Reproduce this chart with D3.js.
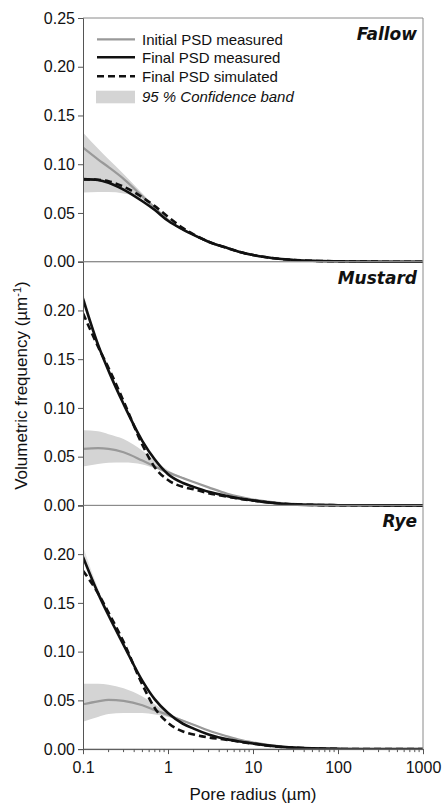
<!DOCTYPE html>
<html><head><meta charset="utf-8">
<script src="https://cdn.jsdelivr.net/npm/d3@7"></script>
<style>
html,body{margin:0;padding:0;background:#fff;}
svg{display:block;}
text{font-family:"Liberation Sans",Arial,sans-serif;fill:#111;}
</style></head>
<body>
<svg id="chart" width="445" height="807"></svg>
<script>
// ---- data ----
const radius = [0.1, 0.15, 0.2, 0.3, 0.5, 0.7, 1, 1.5, 2, 3, 5, 7, 10, 20, 30, 50, 100, 200, 500, 1000];
const panelNames = ["Fallow", "Mustard", "Rye"];

const fallowInitial = [0.117, 0.105, 0.097, 0.085, 0.067, 0.055, 0.043, 0.033, 0.0275, 0.0205, 0.014, 0.010, 0.0068, 0.0030, 0.0018, 0.0009, 0.0004, 0.0001, 0, 0];
const fallowFinal   = [0.0847, 0.0838, 0.081, 0.074, 0.062, 0.053, 0.042, 0.033, 0.0275, 0.0205, 0.014, 0.010, 0.0068, 0.0030, 0.0018, 0.0009, 0.0004, 0.0001, 0, 0];
const fallowSim     = [0.0845, 0.084, 0.0825, 0.077, 0.066, 0.057, 0.046, 0.0345, 0.028, 0.0205, 0.014, 0.010, 0.0068, 0.0030, 0.0018, 0.0009, 0.0004, 0.0001, 0, 0];
const fallowBandUp  = [0.1325, 0.116, 0.105, 0.090, 0.070, 0.057, 0.044, 0.0335, 0.028, 0.021, 0.0143, 0.0102, 0.007, 0.0031, 0.0019, 0.001, 0.0004, 0.0001, 0, 0];
const fallowBandLo  = [0.071, 0.0715, 0.0715, 0.070, 0.064, 0.053, 0.042, 0.0325, 0.027, 0.020, 0.0137, 0.0098, 0.0066, 0.0029, 0.0017, 0.0008, 0.0004, 0.0001, 0, 0];

const mustardInitial = [0.058, 0.0587, 0.058, 0.0545, 0.046, 0.040, 0.034, 0.028, 0.024, 0.0185, 0.012, 0.0088, 0.006, 0.0025, 0.0015, 0.0007, 0.0002, 0.0001, 0, 0];
const mustardFinal   = [0.212, 0.165, 0.138, 0.104, 0.066, 0.047, 0.032, 0.023, 0.019, 0.014, 0.0095, 0.007, 0.005, 0.002, 0.0011, 0.0005, 0.0002, 0.0001, 0, 0];
const mustardSim     = [0.197, 0.163, 0.141, 0.107, 0.062, 0.039, 0.026, 0.019, 0.0165, 0.0125, 0.009, 0.0068, 0.005, 0.002, 0.0011, 0.0005, 0.0002, 0.0001, 0, 0];
const mustardBandUp  = [0.077, 0.076, 0.073, 0.068, 0.056, 0.046, 0.036, 0.029, 0.0245, 0.019, 0.0123, 0.009, 0.0062, 0.0026, 0.0015, 0.0007, 0.0002, 0.0001, 0, 0];
const mustardBandLo  = [0.040, 0.0425, 0.0437, 0.044, 0.042, 0.038, 0.032, 0.027, 0.0235, 0.018, 0.0117, 0.0086, 0.0058, 0.0024, 0.0015, 0.0007, 0.0002, 0.0001, 0, 0];
const mustardFinalUp = [0.219, 0.168, 0.139, 0.104, 0.066, 0.047, 0.032, 0.023, 0.019, 0.014, 0.0095, 0.007, 0.005, 0.002, 0.0011, 0.0005, 0.0002, 0.0001, 0, 0];

const ryeInitial = [0.046, 0.049, 0.0505, 0.0495, 0.045, 0.040, 0.035, 0.029, 0.025, 0.019, 0.013, 0.0095, 0.0068, 0.003, 0.0017, 0.0008, 0.0002, 0.0001, 0, 0];
const ryeFinal   = [0.197, 0.160, 0.137, 0.107, 0.070, 0.051, 0.037, 0.026, 0.021, 0.015, 0.010, 0.0078, 0.0058, 0.0025, 0.0015, 0.0007, 0.0002, 0.0001, 0, 0];
const ryeSim     = [0.183, 0.160, 0.140, 0.110, 0.066, 0.042, 0.027, 0.018, 0.015, 0.012, 0.0095, 0.0075, 0.0056, 0.0024, 0.0015, 0.0007, 0.0002, 0.0001, 0, 0];
const ryeBandUp  = [0.067, 0.067, 0.066, 0.0625, 0.054, 0.046, 0.037, 0.030, 0.0258, 0.0196, 0.0134, 0.0098, 0.007, 0.0031, 0.0018, 0.0008, 0.0002, 0.0001, 0, 0];
const ryeBandLo  = [0.028, 0.033, 0.036, 0.037, 0.037, 0.0355, 0.033, 0.028, 0.0242, 0.0184, 0.0126, 0.0092, 0.0066, 0.0029, 0.0016, 0.0008, 0.0002, 0.0001, 0, 0];
const ryeFinalUp = [0.208, 0.165, 0.139, 0.107, 0.070, 0.051, 0.037, 0.026, 0.021, 0.015, 0.010, 0.0078, 0.0058, 0.0025, 0.0015, 0.0007, 0.0002, 0.0001, 0, 0];

const xTickValues = [0.1, 1, 10, 100, 1000];
const xTickLabels = ["0.1", "1", "10", "100", "1000"];
const yTicksTop = [0, 0.05, 0.10, 0.15, 0.20, 0.25];
const yTicksOther = [0, 0.05, 0.10, 0.15, 0.20];
const legendLabels = ["Initial PSD measured", "Final PSD measured", "Final PSD simulated", "95 % Confidence band"];

const panels = [
  {name: panelNames[0], init: fallowInitial, fin: fallowFinal, sim: fallowSim, up: fallowBandUp, lo: fallowBandLo, finUp: null, ticks: yTicksTop},
  {name: panelNames[1], init: mustardInitial, fin: mustardFinal, sim: mustardSim, up: mustardBandUp, lo: mustardBandLo, finUp: mustardFinalUp, ticks: yTicksOther},
  {name: panelNames[2], init: ryeInitial, fin: ryeFinal, sim: ryeSim, up: ryeBandUp, lo: ryeBandLo, finUp: ryeFinalUp, ticks: yTicksOther}
];

// ---- layout ----
const left = 83, right = 423, top0 = 18, panelH = 243.7;
const svg = d3.select("#chart");
const x = d3.scaleLog().domain([0.1, 1000]).range([left, right]);

svg.append("defs").append("clipPath").attr("id", "clipAll")
  .append("rect").attr("x", left).attr("y", top0).attr("width", right - left).attr("height", panelH * 3);

const GRAY = "#999999", BAND = "#d4d4d4", BLACK = "#111111";

panels.forEach((p, i) => {
  const t = top0 + i * panelH, b = t + panelH;
  const y = d3.scaleLinear().domain([0, 0.25]).range([b, t]);
  const g = svg.append("g");
  const cg = g.append("g").attr("clip-path", "url(#clipAll)");
  const idx = d3.range(radius.length);

  if (p.finUp) {
    cg.append("path")
      .attr("d", d3.area().x(k => x(radius[k])).y0(k => y(p.fin[k])).y1(k => y(p.finUp[k])).curve(d3.curveMonotoneX)(idx))
      .attr("fill", "#e3e3e3");
  }
  cg.append("path")
    .attr("d", d3.area().x(k => x(radius[k])).y0(k => y(p.lo[k])).y1(k => y(p.up[k])).curve(d3.curveMonotoneX)(idx))
    .attr("fill", BAND);
  const line = arr => d3.line().x(k => x(radius[k])).y(k => y(arr[k])).curve(d3.curveMonotoneX)(idx);
  cg.append("path").attr("d", line(p.init)).attr("fill", "none").attr("stroke", GRAY).attr("stroke-width", 2.2);
  cg.append("path").attr("d", line(p.fin)).attr("fill", "none").attr("stroke", BLACK).attr("stroke-width", 2.6);
  cg.append("path").attr("d", line(p.sim)).attr("fill", "none").attr("stroke", BLACK).attr("stroke-width", 2.6).attr("stroke-dasharray", "7,4");

  // frame
  g.append("line").attr("x1", left).attr("x2", right).attr("y1", t).attr("y2", t).attr("stroke", "#8a8a8a");
  g.append("line").attr("x1", right).attr("x2", right).attr("y1", t).attr("y2", b).attr("stroke", "#8a8a8a");
  g.append("line").attr("x1", left).attr("x2", right).attr("y1", b).attr("y2", b).attr("stroke", "#8a8a8a");

  // y axis
  const ya = g.append("g").attr("transform", `translate(${left},0)`)
    .call(d3.axisLeft(y).tickValues(p.ticks).tickFormat(d3.format(".2f")).tickSize(5).tickPadding(3));
  ya.select(".domain").attr("stroke", "#555");
  ya.selectAll(".tick line").attr("stroke", "#555");
  ya.selectAll("text").style("font-size", "16px").style("font-family", '"Liberation Sans", Arial, sans-serif').attr("fill", "#111");

  // panel label
  g.append("text").attr("x", 417).attr("y", t + 22).attr("text-anchor", "end")
    .style("font-family", '"DejaVu Sans", sans-serif').style("font-weight", "bold").style("font-style", "italic")
    .style("font-size", "17px").text(p.name);

  if (i === 2) {
    const xa = g.append("g").attr("transform", `translate(0,${b})`)
      .call(d3.axisBottom(x).tickValues(xTickValues).tickFormat((d, j) => xTickLabels[j]).tickSize(5).tickPadding(8));
    xa.select(".domain").attr("stroke", "#555");
    xa.selectAll(".tick line").attr("stroke", "#555");
    xa.selectAll("text").style("font-size", "16px").style("font-family", '"Liberation Sans", Arial, sans-serif').attr("fill", "#111");
    // minor ticks
    const minor = [];
    for (let d = 0.1; d < 1000; d *= 10) for (let m = 2; m <= 9; m++) minor.push(+(d * m).toPrecision(3));
    g.append("g").selectAll("line").data(minor).join("line")
      .attr("x1", d => x(d)).attr("x2", d => x(d)).attr("y1", b).attr("y2", b + 3)
      .attr("stroke", "#555");
  }
});

// axis titles
svg.append("text").attr("x", (left + right) / 2).attr("y", 800).attr("text-anchor", "middle")
  .style("font-size", "17px").text("Pore radius (µm)");
const yt = svg.append("text").attr("transform", `translate(27,${top0 + panelH * 1.5 + 2}) rotate(-90)`)
  .attr("text-anchor", "middle").style("font-size", "17px");
yt.append("tspan").text("Volumetric frequency (µm");
yt.append("tspan").attr("dy", -6).style("font-size", "11px").text("-1");
yt.append("tspan").attr("dy", 6).text(")");

// legend
const lg = svg.append("g");
const rowsY = [39.3, 57.3, 76.3];
const styles = [{c: GRAY, w: 2.2, d: null}, {c: BLACK, w: 2.6, d: null}, {c: BLACK, w: 2.6, d: "7,4"}];
rowsY.forEach((ry, k) => {
  const l = lg.append("line").attr("x1", 97).attr("x2", 135).attr("y1", ry).attr("y2", ry)
    .attr("stroke", styles[k].c).attr("stroke-width", styles[k].w);
  if (styles[k].d) l.attr("stroke-dasharray", styles[k].d);
  lg.append("text").attr("x", 142).attr("y", ry + 5.5).style("font-size", "15px").text(legendLabels[k]);
});
lg.append("rect").attr("x", 96).attr("y", 90.7).attr("width", 39).attr("height", 12.6).attr("fill", BAND);
lg.append("text").attr("x", 142).attr("y", 101.5).style("font-size", "15px").style("font-style", "italic").text(legendLabels[3]);
</script>
</body></html>
